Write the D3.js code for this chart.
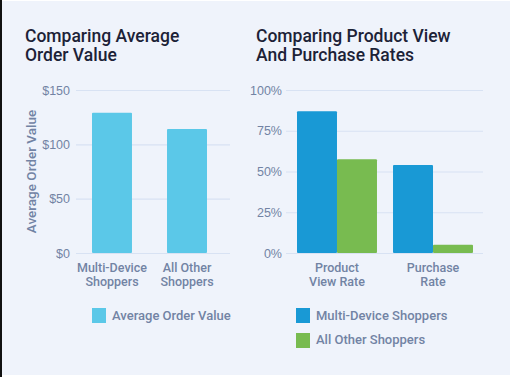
<!DOCTYPE html>
<html><head><meta charset="utf-8">
<script src="https://cdn.jsdelivr.net/npm/d3@7"></script>
<style>
html,body{margin:0;padding:0;background:#fff;}
svg{display:block;font-family:Roboto,"Noto Sans",sans-serif;}
.tick text{font-size:12.5px;fill:#7283a4;font-weight:500;}
</style></head>
<body><svg id="c" width="512" height="377"></svg>
<script>
// left chart
const aovCats=[['Multi-Device','Shoppers'],['All Other','Shoppers']];
const aovVals=[129,114];
const aovTicks=[0,50,100,150];
// right chart
const rateCats=[['Product','View Rate'],['Purchase','Rate']];
const rateSeries=['Multi-Device Shoppers','All Other Shoppers'];
const multiVals=[87,54];
const otherVals=[57.5,5];
const rateTicks=[0,25,50,75,100];

const svg=d3.select('#c');
svg.append('rect').attr('width',512).attr('height',377).attr('fill','#fff');
svg.append('rect').attr('x',0).attr('y',1).attr('width',510).attr('height',374).attr('fill','#eff3fb');
svg.append('rect').attr('x',0).attr('y',0).attr('width',2).attr('height',377).attr('fill','#111');

const txt='#1c2237',tk='#7283a4',grid='#d8e2f3';
const cLight='#5bc8e8',cBlue='#1999d5',cGreen='#78bb50';

function title(x,lines){
  lines.forEach((l,i)=>svg.append('text').attr('x',x).attr('y',42+i*19).attr('font-size',17.5).attr('fill',txt).attr('font-weight',500).text(l));
}
function xlabels(g,x,cats,h){
  cats.forEach((c,i)=>{
    c.forEach((l,j)=>g.append('text').attr('x',x(i)+x.bandwidth()/2).attr('y',h+19+j*14)
      .attr('text-anchor','middle').attr('font-size',12.5).attr('fill',tk).attr('font-weight',500).text(l));
  });
}

// ---- left
{
  const m={l:76,t:90},w=154,h=163;
  const g=svg.append('g').attr('transform',`translate(${m.l},${m.t})`);
  const y=d3.scaleLinear().domain([0,150]).range([h,0]);
  const x=d3.scaleBand().domain(d3.range(aovVals.length)).range([16,131]).paddingInner(0.467).paddingOuter(0);
  g.append('g').call(d3.axisLeft(y).tickValues(aovTicks).tickSize(-w).tickPadding(6).tickFormat(d=>'$'+d))
    .call(a=>a.select('.domain').remove()).call(a=>a.selectAll('line').attr('stroke',grid).attr('stroke-width',1.2));
  g.selectAll('.b').data(aovVals).join('rect').attr('x',(d,i)=>x(i)).attr('width',x.bandwidth())
    .attr('y',d=>y(d)).attr('height',d=>h-y(d)).attr('fill',cLight).attr('rx',1);
  xlabels(g,x,aovCats,h);
  svg.append('text').attr('transform',`translate(36,${m.t+h/2}) rotate(-90)`).attr('text-anchor','middle')
    .attr('font-size',13.5).attr('fill',tk).attr('font-weight',500).text('Average Order Value');
  svg.append('rect').attr('x',92).attr('y',308).attr('width',14).attr('height',15).attr('fill',cLight);
  svg.append('text').attr('x',112).attr('y',320).attr('font-size',13).attr('fill',tk).attr('font-weight',500).text('Average Order Value');
  title(25,['Comparing Average','Order Value']);
}

// ---- right
{
  const m={l:286,t:90},w=197,h=163;
  const g=svg.append('g').attr('transform',`translate(${m.l},${m.t})`);
  const y=d3.scaleLinear().domain([0,100]).range([h,0]);
  const x=d3.scaleBand().domain(d3.range(rateCats.length)).range([11,187]).paddingInner(0.167).paddingOuter(0);
  const xs=d3.scaleBand().domain([0,1]).range([0,x.bandwidth()]);
  g.append('g').call(d3.axisLeft(y).tickValues(rateTicks).tickSize(-w).tickPadding(4).tickFormat(d=>d+'%'))
    .call(a=>a.select('.domain').remove()).call(a=>a.selectAll('line').attr('stroke',grid).attr('stroke-width',1.2));
  [multiVals,otherVals].forEach((vals,s)=>{
    g.selectAll('.s'+s).data(vals).join('rect').attr('x',(d,i)=>x(i)+xs(s)).attr('width',xs.bandwidth())
      .attr('y',d=>y(d)).attr('height',d=>h-y(d)).attr('fill',s?cGreen:cBlue).attr('rx',1);
  });
  xlabels(g,x,rateCats,h);
  rateSeries.forEach((l,i)=>{
    svg.append('rect').attr('x',296).attr('y',308+i*25).attr('width',14).attr('height',15).attr('fill',i?cGreen:cBlue);
    svg.append('text').attr('x',316).attr('y',320+i*24).attr('font-size',13).attr('fill',tk).attr('font-weight',500).text(l);
  });
  title(256,['Comparing Product View','And Purchase Rates']);
}
</script></body></html>
